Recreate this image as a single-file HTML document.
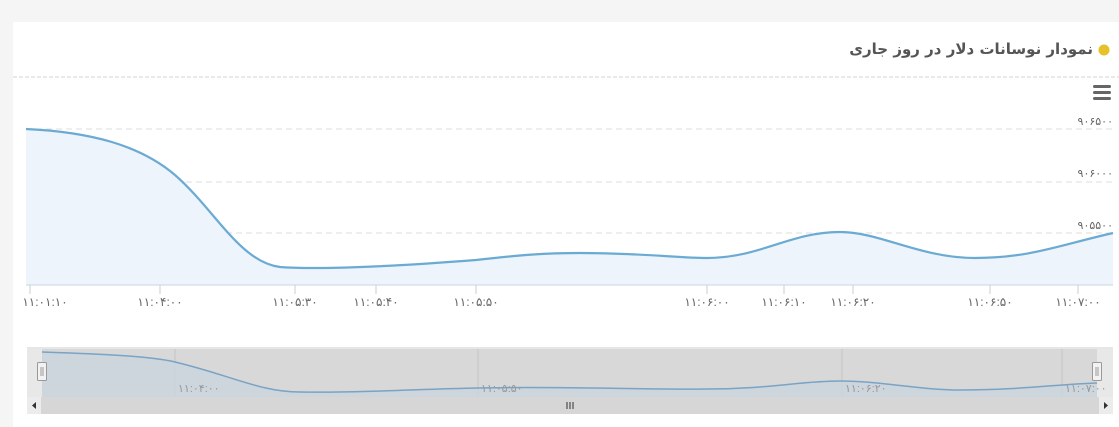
<!DOCTYPE html>
<html><head><meta charset="utf-8"><style>
body{margin:0;width:1119px;height:427px;background:#f5f5f5;overflow:hidden;font-family:"Liberation Sans","DejaVu Sans",sans-serif;}
.card{position:absolute;left:13px;top:22px;width:1106px;height:405px;background:#fff;}
.t{position:absolute;right:26px;top:40px;font-size:15px;font-weight:bold;color:#555;direction:rtl;font-family:"DejaVu Sans",sans-serif;white-space:nowrap}
.y{position:absolute;right:6px;font-size:11px;color:#666;text-align:right;direction:ltr;white-space:nowrap}
</style></head><body>
<div class="card"></div>
<div class="t">نمودار نوسانات دلار در روز جاری</div>
<div class="y" style="top:115px">۹۰۶۵۰۰</div>
<div class="y" style="top:167px">۹۰۶۰۰۰</div>
<div class="y" style="top:219px">۹۰۵۵۰۰</div>
<div class="y" style="top:270px">۹۰۵۰۰۰</div>
<svg width="1119" height="427" style="position:absolute;left:0;top:0">
<line x1="13" y1="77" x2="1119" y2="77" stroke="#e2e2e2" stroke-dasharray="4,2" stroke-width="1.5"/>
<circle cx="1104" cy="50" r="5.5" fill="#e6c12a"/>
<g fill="#666"><rect x="1093" y="85" width="18" height="3" rx="1.5"/><rect x="1093" y="91" width="18" height="3" rx="1.5"/><rect x="1093" y="97" width="18" height="3" rx="1.5"/></g>
<g stroke="#ddd" stroke-dasharray="6,4"><line x1="26" y1="129" x2="1113" y2="129"/><line x1="26" y1="182" x2="1113" y2="182"/><line x1="26" y1="233" x2="1113" y2="233"/></g>
<path d="M26,129 C90,132 140,145 175,175 C215,210 240,262 280,267 C320,270 400,266 476,260 C520,255 545,253 580,253 C640,253 680,258 707,258 C760,258 790,232 840,232 C880,232 920,258 975,258 C1030,258 1060,245 1113,233 L1113,285 L26,285Z" fill="#edf4fb"/>
<path d="M26,129 C90,132 140,145 175,175 C215,210 240,262 280,267 C320,270 400,266 476,260 C520,255 545,253 580,253 C640,253 680,258 707,258 C760,258 790,232 840,232 C880,232 920,258 975,258 C1030,258 1060,245 1113,233" fill="none" stroke="#6aaad3" stroke-width="2.2"/>
<line x1="26" y1="285" x2="1113" y2="285" stroke="#c8d6e6"/>
<g stroke="#ccc"><line x1="30" y1="285" x2="30" y2="294"/><line x1="160" y1="285" x2="160" y2="294"/><line x1="295" y1="285" x2="295" y2="294"/><line x1="376" y1="285" x2="376" y2="294"/><line x1="476" y1="285" x2="476" y2="294"/><line x1="707" y1="285" x2="707" y2="294"/><line x1="784" y1="285" x2="784" y2="294"/><line x1="853" y1="285" x2="853" y2="294"/><line x1="990" y1="285" x2="990" y2="294"/><line x1="1078" y1="285" x2="1078" y2="294"/></g>
<g font-size="12" fill="#666" text-anchor="middle"><text x="45" y="306">۱۱:۰۱:۱۰</text><text x="160" y="306">۱۱:۰۴:۰۰</text><text x="295" y="306">۱۱:۰۵:۳۰</text><text x="376" y="306">۱۱:۰۵:۴۰</text><text x="476" y="306">۱۱:۰۵:۵۰</text><text x="707" y="306">۱۱:۰۶:۰۰</text><text x="784" y="306">۱۱:۰۶:۱۰</text><text x="853" y="306">۱۱:۰۶:۲۰</text><text x="990" y="306">۱۱:۰۶:۵۰</text><text x="1078" y="306">۱۱:۰۷:۰۰</text></g>
<line x1="27" y1="348" x2="1113" y2="348" stroke="#ccc"/>
<rect x="42" y="349" width="1055" height="48" fill="#d8d8d8"/>
<rect x="27" y="349" width="15" height="48" fill="#e8e8e8"/>
<rect x="1097" y="349" width="16" height="48" fill="#e8e8e8"/>
<g stroke="#c4c4c4"><line x1="175" y1="349" x2="175" y2="397"/><line x1="478" y1="349" x2="478" y2="397"/><line x1="842" y1="349" x2="842" y2="397"/><line x1="1062" y1="349" x2="1062" y2="397"/></g>
<path d="M42,352 C100,354 150,356 175,362 C230,375 260,392 300,392 C360,393 420,389 478,388 C560,386 650,390 707,389 C770,389 800,381 840,381 C880,381 920,390 960,390 C1020,390 1060,384 1097,383 L1097,397 L42,397Z" fill="#cbd5df" opacity="0.8"/>
<path d="M42,352 C100,354 150,356 175,362 C230,375 260,392 300,392 C360,393 420,389 478,388 C560,386 650,390 707,389 C770,389 800,381 840,381 C880,381 920,390 960,390 C1020,390 1060,384 1097,383" fill="none" stroke="#7aa3c4" stroke-width="1.5"/>
<g font-size="11" fill="#999"><text x="178" y="392">۱۱:۰۴:۰۰</text><text x="481" y="392">۱۱:۰۵:۵۰</text><text x="845" y="392">۱۱:۰۶:۲۰</text><text x="1065" y="392">۱۱:۰۷:۰۰</text></g>
<g fill="#f2f2f2" stroke="#999"><rect x="37.5" y="362.5" width="9" height="18" rx="1"/><rect x="1092.5" y="362.5" width="9" height="18" rx="1"/></g>
<g stroke="#999"><line x1="41" y1="367" x2="41" y2="376"/><line x1="43" y1="367" x2="43" y2="376"/><line x1="1096" y1="367" x2="1096" y2="376"/><line x1="1098" y1="367" x2="1098" y2="376"/></g>
<rect x="27" y="397" width="1086" height="17" fill="#d6d6d6"/>
<rect x="27" y="397" width="14" height="17" fill="#ececec"/><rect x="1099" y="397" width="14" height="17" fill="#ececec"/>
<path d="M32,405.5 L36,402 L36,409Z M1108,405.5 L1104,402 L1104,409Z" fill="#333"/>
<g stroke="#333"><line x1="567" y1="402" x2="567" y2="409"/><line x1="570" y1="402" x2="570" y2="409"/><line x1="573" y1="402" x2="573" y2="409"/></g>
</svg>
</body></html>
